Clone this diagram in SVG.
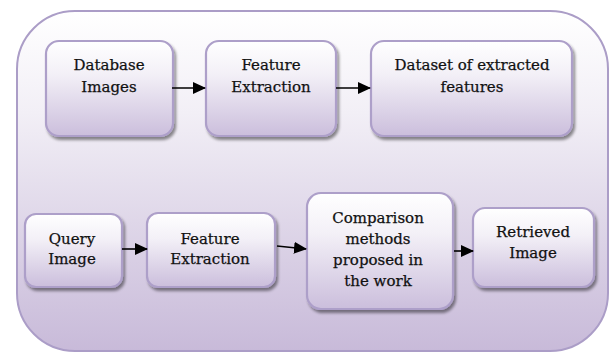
<svg xmlns="http://www.w3.org/2000/svg" width="611" height="353" viewBox="0 0 611 353">
<defs>
<linearGradient id="bg" x1="0" y1="0" x2="0" y2="1">
<stop offset="0" stop-color="#ffffff"/>
<stop offset="0.3" stop-color="#f2eff6"/>
<stop offset="1" stop-color="#c8bad9"/>
</linearGradient>
<linearGradient id="nodeFill" x1="0" y1="0" x2="0" y2="1">
<stop offset="0" stop-color="#ffffff"/>
<stop offset="0.35" stop-color="#f3f0f7"/>
<stop offset="1" stop-color="#cbbedc"/>
</linearGradient>
<filter id="shadow" x="-10%" y="-10%" width="125%" height="130%">
<feGaussianBlur in="SourceAlpha" stdDeviation="1.5"/>
<feOffset dx="1.5" dy="3" result="b"/>
<feComponentTransfer><feFuncA type="linear" slope="0.45"/></feComponentTransfer>
<feMerge><feMergeNode/><feMergeNode in="SourceGraphic"/></feMerge>
</filter>
<marker id="arrow" markerWidth="13" markerHeight="12" refX="12" refY="6" orient="auto" markerUnits="userSpaceOnUse">
<path d="M0,0 L13,6 L0,12 Z" fill="#000"/>
</marker>
</defs>
<style>
.node rect { fill: url(#nodeFill); stroke: #ad9fc9; stroke-width: 2.2; filter: url(#shadow); }
.label { font-family: "DejaVu Serif", "Liberation Serif", serif; font-size: 15px; fill: #111; stroke: #111; stroke-width: 0.25; text-anchor: middle; }
.conn line { stroke: #000; stroke-width: 1.6; marker-end: url(#arrow); }
</style>
<rect id="container" x="17" y="11" width="591" height="340" rx="58" ry="58" fill="url(#bg)" stroke="#ab9dc7" stroke-width="2"/>

<g id="n-database" class="node">
<rect x="46" y="41" width="127" height="95" rx="13"/>
<text class="label" x="109" y="70">Database</text>
<text class="label" x="109" y="92">Images</text>
</g>
<g id="n-feature1" class="node">
<rect x="206" y="41" width="130" height="95" rx="13"/>
<text class="label" x="271" y="70">Feature</text>
<text class="label" x="271" y="92">Extraction</text>
</g>
<g id="n-dataset" class="node">
<rect x="371" y="41" width="201" height="95" rx="13"/>
<text class="label" x="472" y="70">Dataset of extracted</text>
<text class="label" x="472" y="92">features</text>
</g>
<g id="n-query" class="node">
<rect x="25" y="214" width="97" height="73" rx="11"/>
<text class="label" x="72" y="244">Query</text>
<text class="label" x="72" y="264">Image</text>
</g>
<g id="n-feature2" class="node">
<rect x="147" y="213" width="128" height="74" rx="11"/>
<text class="label" x="210" y="244">Feature</text>
<text class="label" x="210" y="264">Extraction</text>
</g>
<g id="n-compare" class="node">
<rect x="307" y="193" width="146" height="116" rx="14"/>
<text class="label" x="378" y="223">Comparison</text>
<text class="label" x="378" y="244">methods</text>
<text class="label" x="378" y="265">proposed in</text>
<text class="label" x="378" y="286">the work</text>
</g>
<g id="n-retrieved" class="node">
<rect x="473" y="208" width="121" height="79" rx="12"/>
<text class="label" x="533" y="237">Retrieved</text>
<text class="label" x="533" y="258">Image</text>
</g>

<g id="connectors" class="conn">
<line x1="172" y1="88" x2="205" y2="88"/>
<line x1="336" y1="88" x2="370" y2="88"/>
<line x1="122" y1="249" x2="147" y2="249"/>
<line x1="277" y1="246" x2="306" y2="249"/>
<line x1="454" y1="251" x2="473" y2="251"/>
</g>
</svg>
